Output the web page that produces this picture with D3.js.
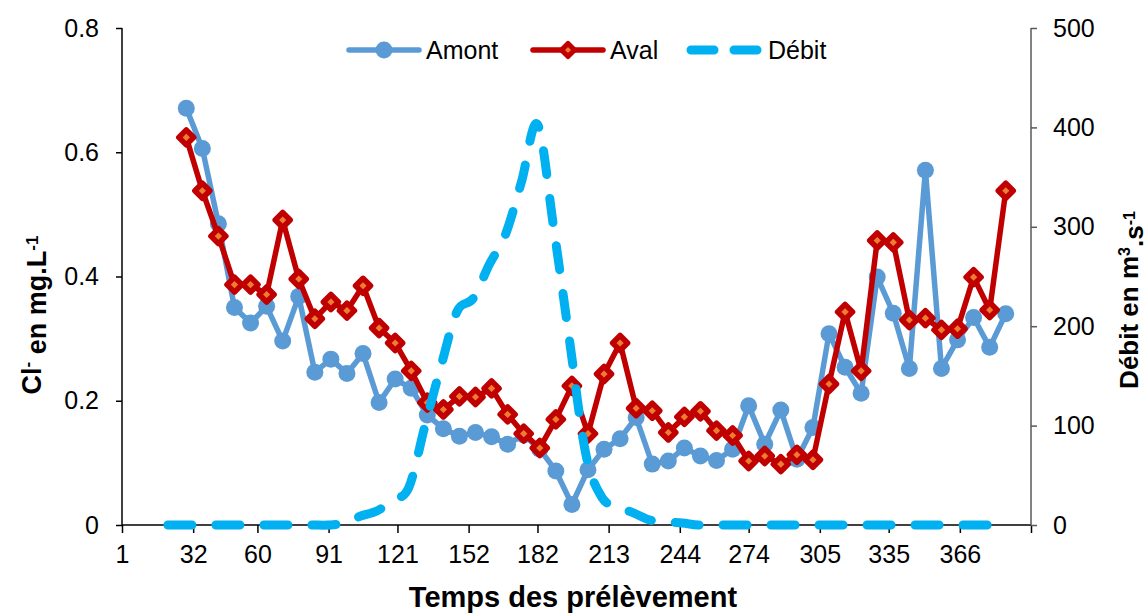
<!DOCTYPE html>
<html><head><meta charset="utf-8">
<script src="https://cdn.jsdelivr.net/npm/d3@7/dist/d3.min.js"></script>
<style>
body{margin:0;background:#fff}
text{font-family:Arial,"Liberation Sans",sans-serif;fill:#000}
</style>
</head><body>
<svg id="c" width="1148" height="613"></svg>
<script>
// ---- data ----
const sampleDays = [29,36,43,50,57,64,71,78,85,92,99,106,113,120,127,134,141,148,155,162,169,176,183,190,197,204,211,218,225,232,239,246,253,260,267,274,281,288,295,302,309,316,323,330,337,344,351,358,365,372,379,386];
const amont = [0.671,0.606,0.485,0.350,0.325,0.352,0.296,0.368,0.246,0.267,0.244,0.276,0.197,0.235,0.220,0.177,0.155,0.143,0.149,0.142,0.130,0.145,0.122,0.087,0.033,0.089,0.122,0.139,0.173,0.098,0.103,0.124,0.111,0.104,0.122,0.192,0.130,0.185,0.106,0.157,0.308,0.254,0.212,0.399,0.341,0.252,0.571,0.252,0.298,0.334,0.286,0.340];
const aval = [0.624,0.538,0.465,0.387,0.387,0.371,0.491,0.396,0.332,0.359,0.345,0.385,0.317,0.293,0.248,0.197,0.186,0.207,0.206,0.220,0.178,0.147,0.124,0.170,0.224,0.147,0.243,0.293,0.188,0.184,0.149,0.174,0.183,0.152,0.144,0.103,0.111,0.098,0.113,0.105,0.227,0.343,0.248,0.458,0.455,0.330,0.333,0.314,0.316,0.399,0.346,0.538];
const debitDays = [21,28,35,42,49,56,63,70,77,84,91,98,105,112,119,126,133,140,147,154,161,168,175,182,189,196,203,210,217,224,231,238,245,252,259,266,273,280,287,294,301,308,315,322,329,336,343,350,357,364,371,378];
const debit = [0,0,0,0,0,0,0,0,0,0,0,2,9,14,25,38,100,160,215,228,262,292,345,403,300,185,72,28,18,12,5,3,2,0,0,0,0,0,0,0,0,0,0,0,0,0,0,0,0,0,0,0];
const xTickValues = [1,32,60,91,121,152,182,213,244,274,305,335,366,397];
const xTickLabels = ["1","32","60","91","121","152","182","213","244","274","305","335","366",""];
const leftTicks = [0,0.2,0.4,0.6,0.8];
const rightTicks = [0,100,200,300,400,500];
const seriesNames = ["Amont","Aval","Débit"];

// ---- scales ----
const svg = d3.select("#c");
const x = d3.scaleLinear().domain([1,397]).range([122,1031]);
const yL = d3.scaleLinear().domain([0,0.8]).range([525,28]);
const yR = d3.scaleLinear().domain([0,500]).range([525,28]);

const FS = 25;
const cBlue = "#5B9BD5", cRed = "#C00000", cOrange = "#ED7D31", cCyan = "#00B0F0";

// ---- axes ----
const gx = svg.append("g").attr("transform","translate(0,525)")
  .call(d3.axisBottom(x).tickValues(xTickValues).tickFormat((d,i)=>xTickLabels[i]).tickSize(8).tickPadding(12));
const gl = svg.append("g").attr("transform","translate(122,0)")
  .call(d3.axisLeft(yL).tickValues(leftTicks).tickFormat(d=>d===0?"0":d3.format(".1f")(d)).tickSize(6).tickPadding(17));
const gr = svg.append("g").attr("transform","translate(1031,0)")
  .call(d3.axisRight(yR).tickValues(rightTicks).tickFormat(d3.format("d")).tickSize(6).tickPadding(16));
[gx,gl,gr].forEach(g=>{
  g.select(".domain").attr("stroke","#000").attr("stroke-width",1.5);
  g.selectAll(".tick line").attr("stroke","#000").attr("stroke-width",1.5);
  g.selectAll(".tick text").style("font-size",FS+"px").style("font-family","Arial, 'Liberation Sans', sans-serif").attr("fill","#000");
});
gr.select(".domain").attr("stroke","#595959");
gr.selectAll(".tick line").attr("stroke","#595959");
gl.select(".domain").attr("d","M0,28V525");
gr.select(".domain").attr("d","M0,28V525");
gx.select(".domain").attr("d","M122,0H1031");

// ---- series ----
const amontData = sampleDays.map((d,i)=>({d, v: amont[i]}));
const avalData = sampleDays.map((d,i)=>({d, v: aval[i]}));
const debitData = debitDays.map((d,i)=>({d, v: debit[i]}));

const lineL = d3.line().x(p=>x(p.d)).y(p=>yL(p.v));
svg.append("path").datum(amontData).attr("d",lineL).attr("fill","none")
  .attr("stroke",cBlue).attr("stroke-width",5.5).attr("stroke-linejoin","round");
svg.append("g").selectAll("circle").data(amontData).join("circle")
  .attr("cx",p=>x(p.d)).attr("cy",p=>yL(p.v)).attr("r",8.5).attr("fill",cBlue);

svg.append("path").datum(avalData).attr("d",lineL).attr("fill","none")
  .attr("stroke",cRed).attr("stroke-width",5.5).attr("stroke-linejoin","round");
const diamond = (cx,cy,s)=>`M${cx},${cy-s}L${cx+s},${cy}L${cx},${cy+s}L${cx-s},${cy}Z`;
svg.append("g").selectAll("path").data(avalData).join("path")
  .attr("d",p=>diamond(x(p.d),yL(p.v),7.5)).attr("fill",cOrange)
  .attr("stroke",cRed).attr("stroke-width",5.5).attr("stroke-linejoin","round");

const lineR = d3.line().x(p=>x(p.d)).y(p=>yR(p.v)).curve(d3.curveCardinal.tension(0));
svg.append("path").datum(debitData).attr("d",lineR).attr("fill","none")
  .attr("stroke",cCyan).attr("stroke-width",9).attr("stroke-linecap","round")
  .attr("stroke-dasharray","24,24");

// ---- legend ----
const lg = svg.append("g");
const ly = 50;
lg.append("line").attr("x1",349).attr("x2",419).attr("y1",ly).attr("y2",ly)
  .attr("stroke",cBlue).attr("stroke-width",5.5).attr("stroke-linecap","round");
lg.append("circle").attr("cx",384).attr("cy",ly).attr("r",8.5).attr("fill",cBlue);
lg.append("text").attr("x",426).attr("y",ly+9).style("font-size",FS+"px").text(seriesNames[0]);

lg.append("line").attr("x1",533).attr("x2",603).attr("y1",ly).attr("y2",ly)
  .attr("stroke",cRed).attr("stroke-width",5.5).attr("stroke-linecap","round");
lg.append("path").attr("d",diamond(568,ly,6.5)).attr("fill",cOrange)
  .attr("stroke",cRed).attr("stroke-width",5).attr("stroke-linejoin","round");
lg.append("text").attr("x",610).attr("y",ly+9).style("font-size",FS+"px").text(seriesNames[1]);

lg.append("line").attr("x1",691).attr("x2",758).attr("y1",ly).attr("y2",ly)
  .attr("stroke",cCyan).attr("stroke-width",9).attr("stroke-linecap","round")
  .attr("stroke-dasharray","23,20");
lg.append("text").attr("x",768).attr("y",ly+9).style("font-size",FS+"px").text(seriesNames[2]);

// ---- axis titles ----
const tl = svg.append("text").attr("transform","translate(41,315) rotate(-90)")
  .attr("text-anchor","middle").style("font-size","27px").style("font-weight","bold");
tl.append("tspan").text("Cl");
tl.append("tspan").attr("dy","-0.5em").style("font-size","17px").text("-");
tl.append("tspan").attr("dy","0.5em").text(" en mg.L");
tl.append("tspan").attr("dy","-0.5em").style("font-size","17px").text("-1");

const tr = svg.append("text").attr("transform","translate(1138,300) rotate(-90)")
  .attr("text-anchor","middle").style("font-size","26px").style("font-weight","bold");
tr.append("tspan").text("Débit en m");
tr.append("tspan").attr("dy","-0.5em").style("font-size","16px").text("3");
tr.append("tspan").attr("dy","0.5em").text(".s");
tr.append("tspan").attr("dy","-0.5em").style("font-size","16px").text("-1");

svg.append("text").attr("x",573).attr("y",607).attr("text-anchor","middle")
  .style("font-size","29px").style("font-weight","bold").text("Temps des prélèvement");
</script>
</body></html>
